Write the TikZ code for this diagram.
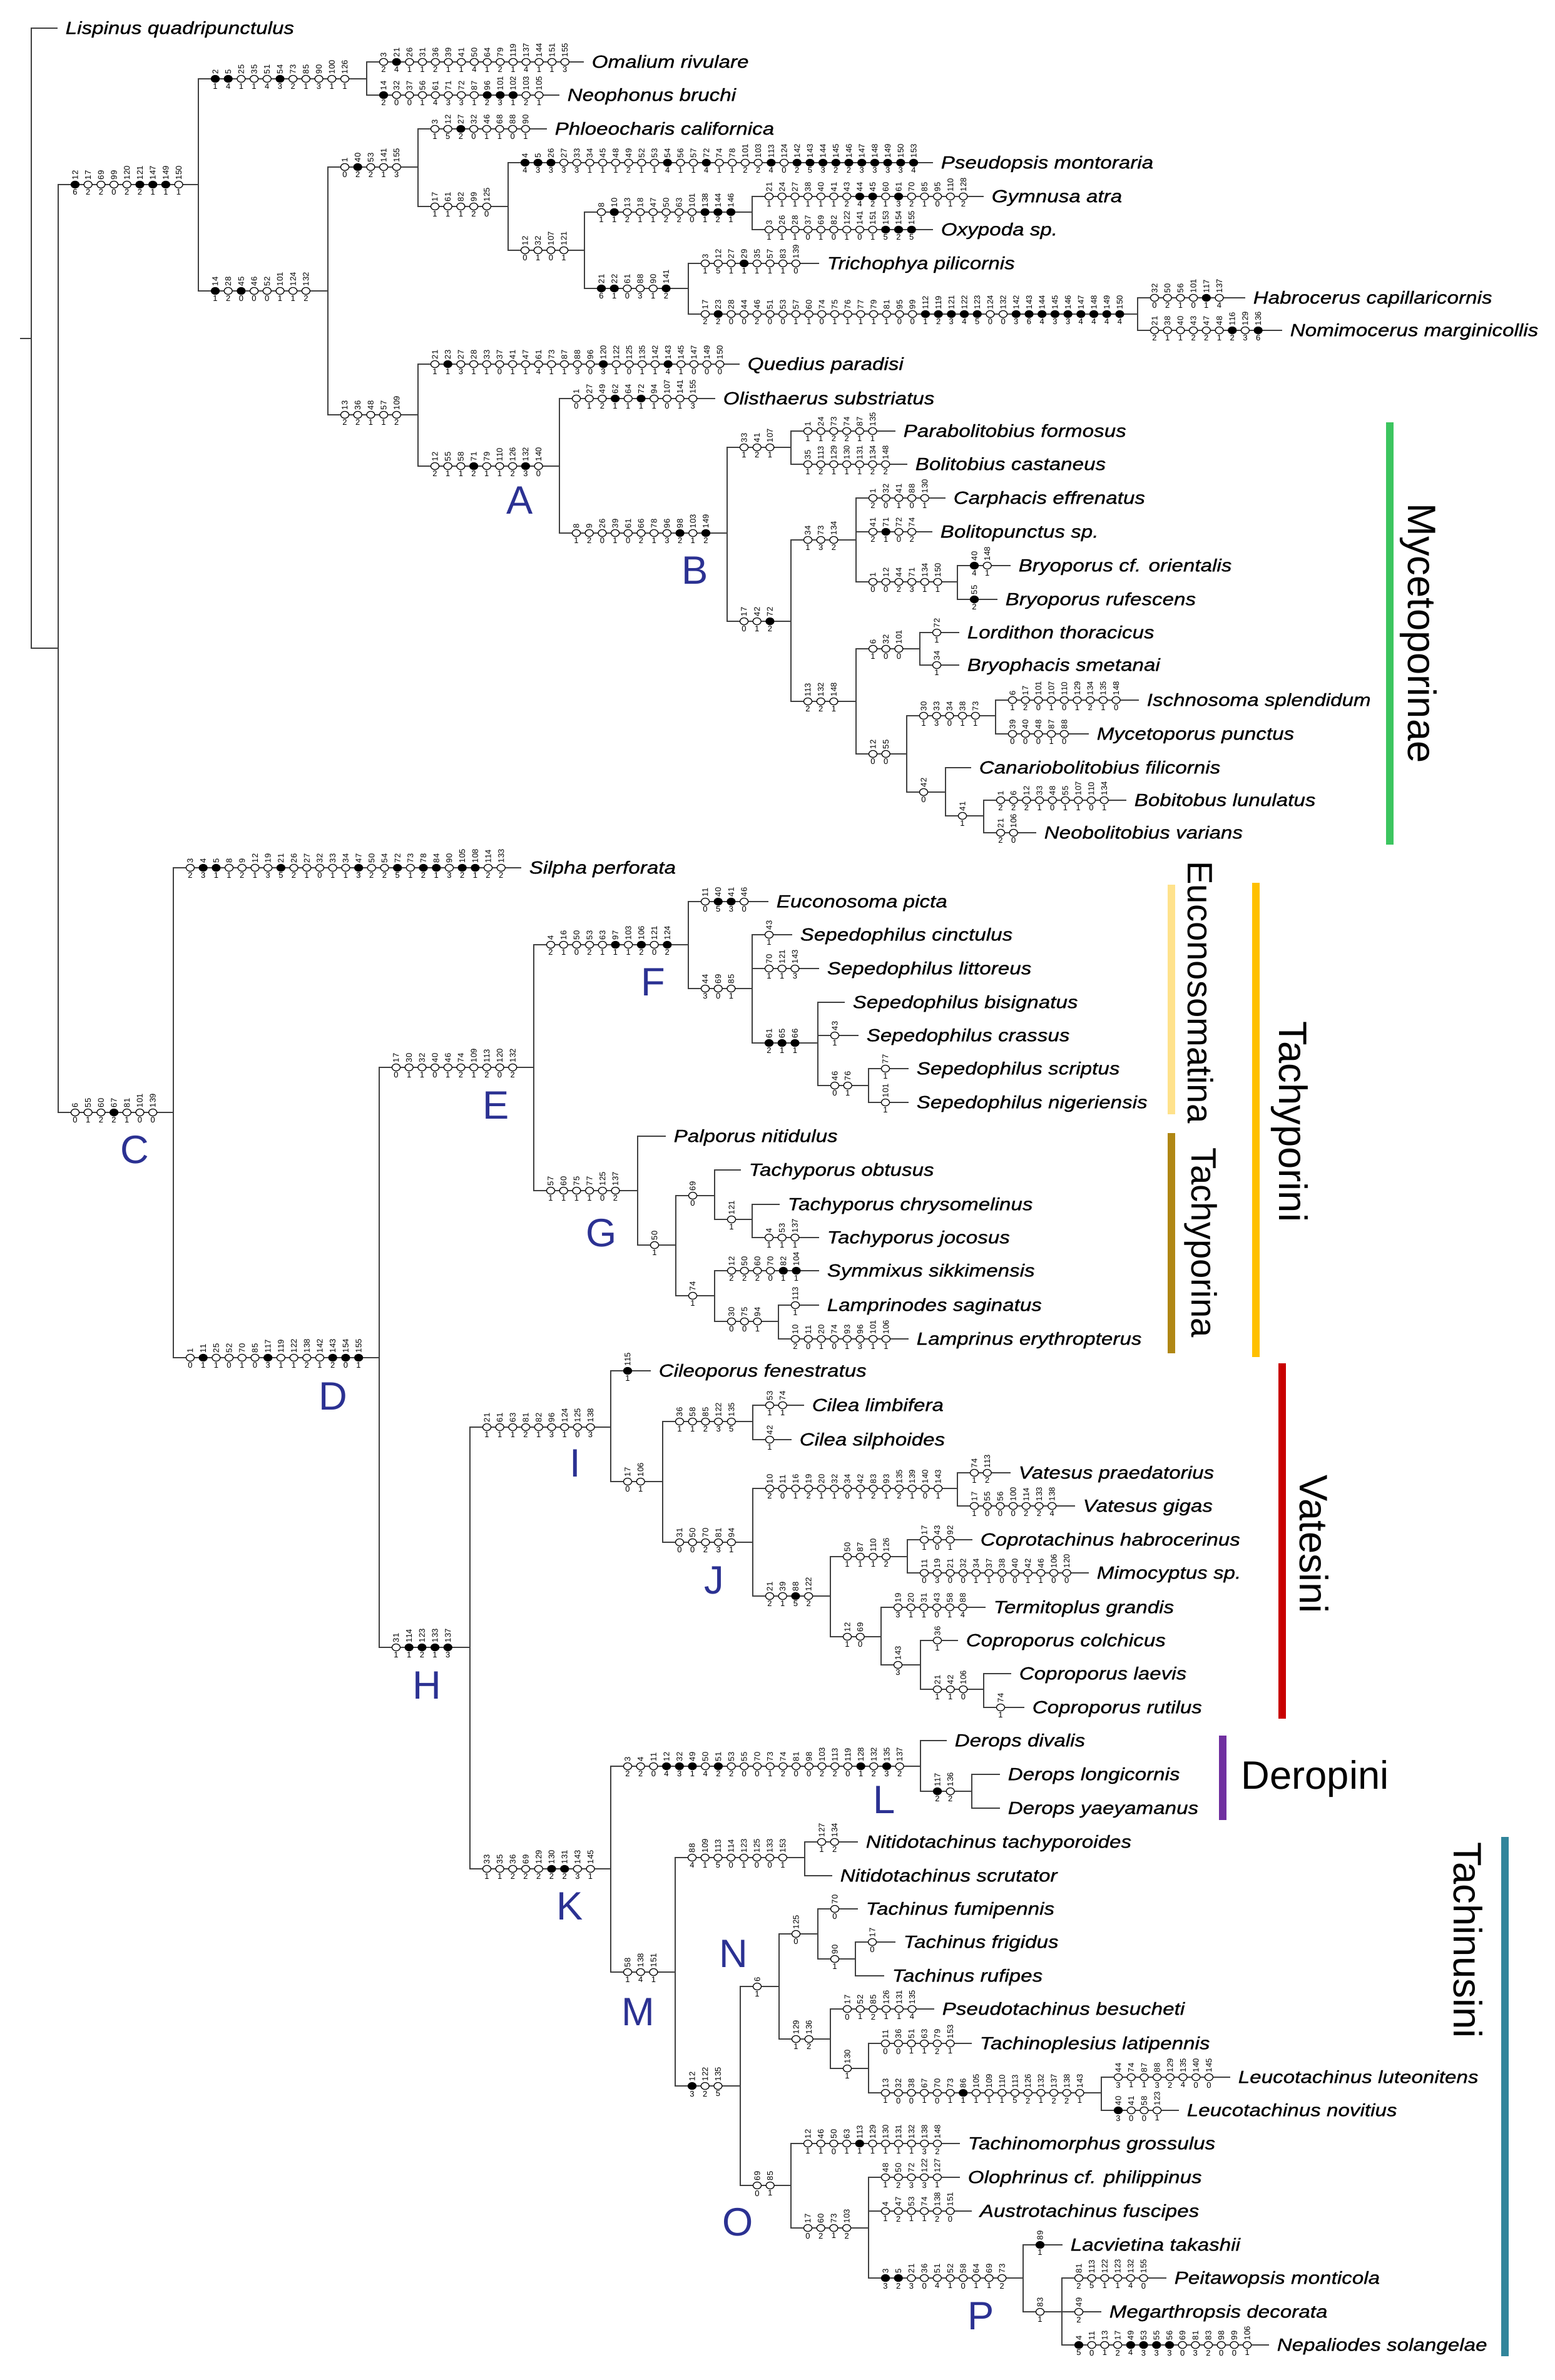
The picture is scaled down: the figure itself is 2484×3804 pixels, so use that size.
\documentclass[tikz,border=0pt]{standalone}
\usepackage{fontspec}
\setmainfont{Liberation Sans}
\newfontfamily\taxfont[FakeStretch=1.18,FakeBold=0.8]{Liberation Sans}
\usetikzlibrary{calc,positioning,shapes.geometric}

\definecolor{letterblue}{RGB}{43,49,146}
\definecolor{mycgreen}{RGB}{60,197,95}
\definecolor{eucoyellow}{RGB}{255,226,140}
\definecolor{tachybrown}{RGB}{176,135,20}
\definecolor{tachyorange}{RGB}{255,192,0}
\definecolor{vatred}{RGB}{200,0,0}
\definecolor{deropurple}{RGB}{112,48,160}
\definecolor{tachteal}{RGB}{49,133,155}
\colorlet{F}{black}
\colorlet{O}{white}

\tikzset{
  branch/.style={draw=black!75, line width=0.8pt},
  apo/.style={ellipse, draw=black, fill=#1, line width=0.35pt, inner sep=0pt,
    minimum width=0.13cm, minimum height=0.11cm},
  num/.style={font=\fontsize{3.7}{4}\selectfont, inner sep=0.3pt},
  taxon/.style={font=\taxfont\itshape\fontsize{8}{9}\selectfont, inner sep=0pt},
  group/.style={font=\fontsize{18}{20}\selectfont, inner sep=0pt},
  subgroup/.style={font=\fontsize{16}{18}\selectfont, inner sep=0pt},
  letter/.style={font=\fontsize{18}{20}\selectfont, text=letterblue, inner sep=0pt},
  bar/.style={line width=3.4pt}
}

% parent, child
\newcommand{\edgeto}[2]{\draw[branch] (#1) |- (#2);}
% parent, child, character/state/fill
\newcommand{\edgechars}[3]{%
  \draw[branch] (#1) |- (#2);
  \foreach \ch/\st/\fl [count=\k from 0] in {#3}{%
    \node[apo=\fl, label={[num,rotate=90,anchor=west]90:\ch},
      label={[num,anchor=north]270:\st}] (#2-\k) at ($(#1 |- #2)+({27+20.7*\k},0)$) {};
  }%
}
\newcommand{\taxlabel}[2]{\node[taxon, right=0.12cm of #1, anchor=mid west] (#1-l) {#2};}

\begin{document}
\begin{tikzpicture}[x=0.01cm, y=-0.01cm]
\useasboundingbox (0,0) rectangle (2484,3804);

% nodes of the upper part
\coordinate (base) at (32,541);
\coordinate (root) at (50,541);
\coordinate (lisp) at (92,45);
\coordinate (n1) at (93,1036);
\coordinate (n2) at (317,295);
\coordinate (n3) at (586,126);
\coordinate (omal) at (933,99);
\coordinate (neoph) at (894,152);
\coordinate (n4) at (524,465);
\coordinate (n5) at (668,267);
\coordinate (phlo) at (874,206);
\coordinate (n6) at (812,330);
\coordinate (pseud) at (1491,260);
\coordinate (n7) at (934,400);
\coordinate (n8) at (1202,339);
\coordinate (gymn) at (1572,314);
\coordinate (oxyp) at (1491,367);
\coordinate (n9) at (1100,461);
\coordinate (trich) at (1309,421);
\coordinate (n10) at (1818,502);
\coordinate (habro) at (1990,476);
\coordinate (nomim) at (2049,528);
\coordinate (n11) at (668,663);
\coordinate (qued) at (1182,582);
\coordinate (nA) at (894,745);
\coordinate (olis) at (1143,637);
\coordinate (nB) at (1162,852);
\coordinate (n14) at (1264,715);
\coordinate (parab) at (1431,689);
\coordinate (bolit) at (1450,742);
\coordinate (n15) at (1264,993);
\coordinate (n16) at (1368,863);
\coordinate (carph) at (1511,796);
\coordinate (bolp) at (1490,850);
\coordinate (n17) at (1530,930);
\coordinate (bryo1) at (1615,904);
\coordinate (bryo2) at (1594,958);
\coordinate (n18) at (1368,1121);
\coordinate (n19) at (1470,1037);
\coordinate (lord) at (1533,1011);
\coordinate (bryph) at (1533,1063);
\coordinate (n20) at (1449,1205);
\coordinate (n21) at (1591,1144);
\coordinate (ischn) at (1820,1119);
\coordinate (mycet) at (1740,1173);
\coordinate (n22) at (1511,1266);
\coordinate (canar) at (1552,1227);
\coordinate (n23) at (1572,1304);
\coordinate (bobit) at (1800,1279);
\coordinate (neobo) at (1656,1331);

% nodes of the lower part
\coordinate (nC) at (277,1778);
\coordinate (silpha) at (833,1387);
\coordinate (nD) at (606,2170);
\coordinate (nE) at (853,1706);
\coordinate (nF) at (1100,1510);
\coordinate (eucon) at (1228,1441);
\coordinate (n28) at (1202,1580);
\coordinate (sep1) at (1266,1494);
\coordinate (sep2) at (1309,1548);
\coordinate (n29) at (1307,1667);
\coordinate (sep3) at (1350,1602);
\coordinate (sep4) at (1372,1655);
\coordinate (n30) at (1388,1735);
\coordinate (sep5) at (1452,1708);
\coordinate (sep6) at (1452,1762);
\coordinate (nG) at (1019,1903);
\coordinate (palp) at (1064,1816);
\coordinate (n32) at (1080,1990);
\coordinate (n33) at (1142,1911);
\coordinate (tobt) at (1184,1870);
\coordinate (n34) at (1202,1949);
\coordinate (tchr) at (1246,1925);
\coordinate (tjoc) at (1309,1978);
\coordinate (n35) at (1142,2071);
\coordinate (symm) at (1309,2031);
\coordinate (n36) at (1244,2112);
\coordinate (lampd) at (1309,2086);
\coordinate (lampr) at (1452,2140);
\coordinate (nH) at (751,2633);
\coordinate (nI) at (976,2281);
\coordinate (cileo) at (1040,2191);
\coordinate (n39) at (1059,2368);
\coordinate (n40) at (1203,2272);
\coordinate (cil1) at (1285,2246);
\coordinate (cil2) at (1265,2301);
\coordinate (nJ) at (1203,2465);
\coordinate (n42) at (1530,2379);
\coordinate (vat1) at (1615,2354);
\coordinate (vat2) at (1718,2407);
\coordinate (n43) at (1327,2551);
\coordinate (n44) at (1450,2488);
\coordinate (copro) at (1554,2461);
\coordinate (mimo) at (1740,2514);
\coordinate (n45) at (1408,2616);
\coordinate (termi) at (1575,2569);
\coordinate (n46) at (1471,2661);
\coordinate (cop1) at (1531,2622);
\coordinate (n47) at (1572,2700);
\coordinate (cop2) at (1616,2675);
\coordinate (cop3) at (1637,2729);
\coordinate (nK) at (976,2987);
\coordinate (nL) at (1471,2823);
\coordinate (der1) at (1513,2782);
\coordinate (n50) at (1553,2863);
\coordinate (der2) at (1598,2836);
\coordinate (der3) at (1598,2890);
\coordinate (nM) at (1079,3152);
\coordinate (n52) at (1286,2969);
\coordinate (nit1) at (1371,2944);
\coordinate (nit2) at (1330,2998);
\coordinate (n53) at (1183,3334);
\coordinate (nN) at (1245,3175);
\coordinate (n55) at (1307,3091);
\coordinate (tfum) at (1371,3051);
\coordinate (n56) at (1367,3131);
\coordinate (tfri) at (1431,3104);
\coordinate (truf) at (1413,3158);
\coordinate (n57) at (1327,3259);
\coordinate (pstac) at (1493,3211);
\coordinate (n58) at (1388,3306);
\coordinate (tlat) at (1553,3266);
\coordinate (n59) at (1760,3345);
\coordinate (leu1) at (1966,3320);
\coordinate (leu2) at (1884,3373);
\coordinate (nO) at (1264,3493);
\coordinate (tgro) at (1534,3426);
\coordinate (n61) at (1388,3561);
\coordinate (olop) at (1534,3480);
\coordinate (austr) at (1553,3534);
\coordinate (nP) at (1635,3641);
\coordinate (lacv) at (1698,3588);
\coordinate (n63) at (1697,3695);
\coordinate (peit) at (1864,3641);
\coordinate (megar) at (1760,3695);
\coordinate (nepal) at (2028,3748);

% branches
\draw[branch] (base) -- (root);
\edgeto{root}{lisp}
\edgeto{root}{n1}
\edgechars{n1}{n2}{12/6/F,17/2/O,69/2/O,99/0/O,120/2/O,121/2/F,147/1/F,149/1/F,150/1/O}
\edgechars{n2}{n3}{2/1/F,5/4/F,25/1/O,35/1/O,51/4/O,54/3/F,73/2/O,85/1/O,90/3/O,100/1/O,126/1/O}
\edgechars{n3}{omal}{3/2/O,21/4/F,26/1/O,31/1/O,36/2/O,39/1/O,41/1/O,50/4/O,64/1/O,79/2/O,119/1/O,137/4/O,144/1/O,151/1/O,155/3/O}
\edgechars{n3}{neoph}{14/2/F,32/0/O,37/0/O,56/1/O,61/4/O,71/3/O,72/3/O,87/1/O,96/2/F,101/3/F,102/1/F,103/2/O,105/1/O}
\edgechars{n2}{n4}{14/1/F,28/2/O,45/0/F,46/0/O,52/0/O,101/1/O,124/1/O,132/2/O}
\edgechars{n4}{n5}{1/0/O,40/2/F,53/2/O,141/1/O,155/3/O}
\edgechars{n5}{phlo}{3/1/O,12/5/O,27/2/F,32/0/O,46/1/O,68/1/O,88/0/O,90/1/O}
\edgechars{n5}{n6}{17/1/O,61/1/O,82/1/O,99/2/O,125/0/O}
\edgechars{n6}{pseud}{4/4/F,5/3/F,26/3/F,27/3/O,33/3/O,34/1/O,45/1/O,48/1/O,49/2/O,52/1/O,53/1/O,54/4/F,56/1/O,57/1/O,72/4/F,74/1/O,78/1/O,101/2/O,103/2/O,113/4/F,124/0/O,142/2/F,143/5/F,144/3/F,145/2/F,146/2/F,147/3/F,148/3/F,149/3/F,150/3/F,153/4/F}
\edgechars{n6}{n7}{12/0/O,32/1/O,107/0/O,121/1/O}
\edgechars{n7}{n8}{8/1/O,10/1/F,13/2/O,18/1/O,47/1/O,50/2/O,63/2/O,101/0/O,138/1/F,144/2/F,146/1/F}
\edgechars{n8}{gymn}{21/1/O,24/1/O,27/1/O,38/1/O,40/1/O,41/1/O,43/2/O,44/4/F,45/2/F,60/1/O,61/3/F,70/2/O,85/1/O,95/0/O,110/1/O,128/2/O}
\edgechars{n8}{oxyp}{3/1/O,26/1/O,28/1/O,37/0/O,69/1/O,82/0/O,122/1/O,141/0/O,151/1/O,153/5/F,154/2/F,155/5/F}
\edgechars{n7}{n9}{21/6/F,22/1/F,61/0/O,88/3/O,90/1/O,141/2/F}
\edgechars{n9}{trich}{3/1/O,12/5/O,27/1/O,29/1/F,35/1/O,57/1/O,83/1/O,139/0/O}
\edgechars{n9}{n10}{17/2/O,23/2/F,28/0/O,44/0/O,46/2/O,51/0/O,53/0/O,57/1/O,60/1/O,74/0/O,75/1/O,76/1/O,77/1/O,79/1/O,81/1/O,95/0/O,99/0/O,112/1/F,119/2/F,121/3/F,122/4/F,123/5/F,124/0/O,132/0/O,142/3/F,143/6/F,144/4/F,145/3/F,146/3/F,147/4/F,148/4/F,149/4/F,150/4/F}
\edgechars{n10}{habro}{32/0/O,50/2/O,56/1/O,101/0/O,117/1/F,137/4/O}
\edgechars{n10}{nomim}{21/2/O,38/1/O,40/1/O,43/2/O,47/2/O,48/1/O,116/2/F,129/3/O,136/6/F}
\edgechars{n4}{n11}{13/2/O,36/2/O,48/1/O,57/1/O,109/2/O}
\edgechars{n11}{qued}{21/1/O,23/1/F,27/3/O,28/1/O,33/1/O,37/0/O,41/1/O,47/1/O,61/4/O,73/1/O,87/1/O,88/3/O,96/0/O,120/3/F,122/1/O,125/0/O,135/1/O,142/1/O,143/4/F,145/1/O,147/0/O,149/0/O,150/0/O}
\edgechars{n11}{nA}{12/2/O,55/1/O,58/1/O,71/2/F,79/1/O,110/1/O,126/2/O,132/3/F,140/0/O}
\edgechars{nA}{olis}{1/0/O,27/1/O,49/2/O,62/1/F,64/1/O,72/1/F,94/1/O,107/0/O,141/1/O,155/3/O}
\edgechars{nA}{nB}{8/1/O,9/2/O,26/0/O,39/1/O,61/0/O,66/2/O,78/1/O,96/3/O,98/2/F,103/1/O,149/2/F}
\edgechars{nB}{n14}{33/1/O,41/2/O,107/1/O}
\edgechars{n14}{parab}{1/1/O,24/1/O,73/2/O,74/2/O,87/1/O,135/1/O}
\edgechars{n14}{bolit}{35/1/O,113/2/O,129/1/O,130/1/O,131/1/O,134/2/O,148/2/O}
\edgechars{nB}{n15}{17/0/O,42/1/O,72/2/F}
\edgechars{n15}{n16}{34/1/O,73/3/O,134/2/O}
\edgechars{n16}{carph}{1/2/O,32/0/O,41/1/O,88/0/O,130/1/O}
\edgechars{n16}{bolp}{41/2/O,71/1/F,72/0/O,74/2/O}
\edgechars{n16}{n17}{1/0/O,12/0/O,44/2/O,71/3/O,134/1/O,150/1/O}
\edgechars{n17}{bryo1}{40/4/F,148/1/O}
\edgechars{n17}{bryo2}{55/2/F}
\edgechars{n15}{n18}{113/2/O,132/2/O,148/1/O}
\edgechars{n18}{n19}{6/1/O,32/0/O,101/0/O}
\edgechars{n19}{lord}{72/1/O}
\edgechars{n19}{bryph}{34/1/O}
\edgechars{n18}{n20}{12/0/O,55/0/O}
\edgechars{n20}{n21}{30/1/O,33/3/O,34/0/O,38/1/O,73/1/O}
\edgechars{n21}{ischn}{6/1/O,17/2/O,101/0/O,107/1/O,110/0/O,129/1/O,134/2/O,135/1/O,148/0/O}
\edgechars{n21}{mycet}{39/0/O,40/0/O,48/0/O,87/1/O,88/0/O}
\edgechars{n20}{n22}{42/0/O}
\edgeto{n22}{canar}
\edgechars{n22}{n23}{41/1/O}
\edgechars{n23}{bobit}{1/2/O,6/2/O,12/2/O,33/1/O,48/0/O,55/1/O,107/1/O,110/0/O,134/1/O}
\edgechars{n23}{neobo}{21/2/O,106/0/O}

\edgechars{n1}{nC}{6/0/O,55/1/O,60/2/O,67/2/F,81/1/O,101/0/O,139/0/O}
\edgechars{nC}{silpha}{3/2/O,4/3/F,5/1/F,8/1/O,9/2/O,12/1/O,19/3/O,21/5/F,26/2/O,27/1/O,32/0/O,33/1/O,34/1/O,47/3/F,50/2/O,54/2/O,72/5/F,73/1/O,78/2/F,84/1/F,90/3/O,105/2/F,108/1/F,114/2/O,133/2/O}
\edgechars{nC}{nD}{1/0/O,11/1/F,25/1/O,52/0/O,70/1/O,85/0/O,117/3/F,119/1/O,122/1/O,138/2/O,142/1/O,143/2/F,154/0/F,155/1/F}
\edgechars{nD}{nE}{17/0/O,30/1/O,32/1/O,40/0/O,46/1/O,74/2/O,109/1/O,113/2/O,120/0/O,132/2/O}
\edgechars{nE}{nF}{4/2/O,16/1/O,50/0/O,53/2/O,63/1/O,97/1/F,103/1/O,106/2/F,121/0/O,124/2/F}
\edgechars{nF}{eucon}{11/0/O,40/5/F,41/3/F,46/0/O}
\edgechars{nF}{n28}{44/3/O,69/0/O,85/1/O}
\edgechars{n28}{sep1}{43/1/O}
\edgechars{n28}{sep2}{70/1/O,121/1/O,143/3/O}
\edgechars{n28}{n29}{61/2/F,65/1/F,66/1/F}
\edgeto{n29}{sep3}
\edgechars{n29}{sep4}{43/1/O}
\edgechars{n29}{n30}{46/0/O,76/1/O}
\edgechars{n30}{sep5}{77/1/O}
\edgechars{n30}{sep6}{101/1/O}
\edgechars{nE}{nG}{57/1/O,60/1/O,75/1/O,77/1/O,125/0/O,137/2/O}
\edgeto{nG}{palp}
\edgechars{nG}{n32}{50/1/O}
\edgechars{n32}{n33}{69/0/O}
\edgeto{n33}{tobt}
\edgechars{n33}{n34}{121/1/O}
\edgeto{n34}{tchr}
\edgechars{n34}{tjoc}{4/1/O,53/1/O,137/1/O}
\edgechars{n32}{n35}{74/1/O}
\edgechars{n35}{symm}{12/2/O,50/2/O,60/2/O,70/0/O,82/1/F,104/1/F}
\edgechars{n35}{n36}{30/0/O,75/0/O,94/1/O}
\edgechars{n36}{lampd}{113/1/O}
\edgechars{n36}{lampr}{10/2/O,11/0/O,20/1/O,74/0/O,93/1/O,96/3/O,101/1/O,106/1/O}
\edgechars{nD}{nH}{31/1/O,114/1/F,123/2/F,133/1/F,137/3/F}
\edgechars{nH}{nI}{21/1/O,61/1/O,63/1/O,81/2/O,82/1/O,96/3/O,124/1/O,125/0/O,138/3/O}
\edgechars{nI}{cileo}{115/1/F}
\edgechars{nI}{n39}{17/0/O,106/1/O}
\edgechars{n39}{n40}{36/1/O,58/1/O,85/2/O,122/3/O,135/5/O}
\edgechars{n40}{cil1}{53/1/O,74/1/O}
\edgechars{n40}{cil2}{42/1/O}
\edgechars{n39}{nJ}{31/0/O,50/0/O,70/2/O,81/3/O,94/1/O}
\edgechars{nJ}{n42}{10/2/O,11/0/O,16/1/O,19/2/O,20/1/O,32/1/O,34/0/O,42/1/O,83/2/O,93/1/O,135/2/O,139/1/O,140/0/O,143/1/O}
\edgechars{n42}{vat1}{74/1/O,113/2/O}
\edgechars{n42}{vat2}{17/1/O,55/0/O,56/0/O,100/0/O,114/2/O,133/2/O,138/4/O}
\edgechars{nJ}{n43}{21/2/O,39/1/O,88/5/F,122/2/O}
\edgechars{n43}{n44}{50/1/O,87/1/O,110/1/O,126/2/O}
\edgechars{n44}{copro}{17/1/O,43/0/O,92/1/O}
\edgechars{n44}{mimo}{11/0/O,19/3/O,21/0/O,32/0/O,34/1/O,37/1/O,38/0/O,40/0/O,42/1/O,46/1/O,106/0/O,120/0/O}
\edgechars{n43}{n45}{12/1/O,69/0/O}
\edgechars{n45}{termi}{19/3/O,20/1/O,31/1/O,43/0/O,58/1/O,88/4/O}
\edgechars{n45}{n46}{143/3/O}
\edgechars{n46}{cop1}{36/1/O}
\edgechars{n46}{n47}{21/1/O,42/1/O,106/0/O}
\edgeto{n47}{cop2}
\edgechars{n47}{cop3}{74/1/O}
\edgechars{nH}{nK}{33/1/O,35/1/O,36/2/O,69/2/O,129/2/O,130/2/F,131/2/F,143/3/O,145/1/O}
\edgechars{nK}{nL}{3/2/O,4/2/O,11/0/O,12/4/F,32/3/F,49/1/F,50/4/O,51/2/F,53/2/O,55/0/O,70/0/O,73/1/O,74/2/O,81/0/O,98/0/O,103/2/O,113/2/O,119/0/O,128/1/F,132/2/O,135/3/F,137/2/O}
\edgeto{nL}{der1}
\edgechars{nL}{n50}{117/2/F,136/2/O}
\edgeto{n50}{der2}
\edgeto{n50}{der3}
\edgechars{nK}{nM}{58/1/O,138/4/O,151/1/O}
\edgechars{nM}{n52}{88/4/O,109/1/O,113/5/O,114/0/O,123/1/O,125/0/O,133/0/O,153/1/O}
\edgechars{n52}{nit1}{127/1/O,134/2/O}
\edgeto{n52}{nit2}
\edgechars{nM}{n53}{12/3/F,122/2/O,135/5/O}
\edgechars{n53}{nN}{6/1/O}
\edgechars{nN}{n55}{125/0/O}
\edgechars{n55}{tfum}{70/0/O}
\edgechars{n55}{n56}{90/1/O}
\edgechars{n56}{tfri}{17/0/O}
\edgeto{n56}{truf}
\edgechars{nN}{n57}{129/1/O,136/2/O}
\edgechars{n57}{pstac}{17/0/O,52/1/O,85/2/O,126/1/O,131/1/O,135/4/O}
\edgechars{n57}{n58}{130/1/O}
\edgechars{n58}{tlat}{11/0/O,36/0/O,51/1/O,63/1/O,79/2/O,153/1/O}
\edgechars{n58}{n59}{13/1/O,32/0/O,38/0/O,67/1/O,70/0/O,73/1/O,86/1/F,105/1/O,109/1/O,110/1/O,113/5/O,126/2/O,132/1/O,137/2/O,138/2/O,143/1/O}
\edgechars{n59}{leu1}{44/3/O,74/1/O,87/1/O,88/3/O,129/2/O,135/4/O,140/0/O,145/0/O}
\edgechars{n59}{leu2}{40/3/F,41/0/O,58/0/O,123/1/O}
\edgechars{n53}{nO}{69/0/O,85/1/O}
\edgechars{nO}{tgro}{12/1/O,46/1/O,50/0/O,63/1/O,113/1/F,129/1/O,130/1/O,131/1/O,132/1/O,138/3/O,148/2/O}
\edgechars{nO}{n61}{17/0/O,60/2/O,73/1/O,103/2/O}
\edgechars{n61}{olop}{48/1/O,50/2/O,72/3/O,122/3/O,127/1/O}
\edgechars{n61}{austr}{4/1/O,47/2/O,53/1/O,74/1/O,138/2/O,151/0/O}
\edgechars{n61}{nP}{3/3/F,5/2/F,21/3/O,36/0/O,51/4/O,52/1/O,58/0/O,64/1/O,69/1/O,73/2/O}
\edgechars{nP}{lacv}{89/1/F}
\edgechars{nP}{n63}{83/1/O}
\edgechars{n63}{peit}{81/2/O,113/5/O,122/1/O,123/1/O,132/4/O,155/0/O}
\edgechars{n63}{megar}{49/2/O}
\edgechars{n63}{nepal}{4/5/F,11/0/O,13/1/O,17/2/O,49/4/F,53/3/F,55/3/F,56/3/F,69/0/O,81/3/O,83/2/O,98/0/O,99/0/O,106/1/O}

% taxa
\taxlabel{lisp}{Lispinus quadripunctulus}
\taxlabel{omal}{Omalium rivulare}
\taxlabel{neoph}{Neophonus bruchi}
\taxlabel{phlo}{Phloeocharis californica}
\taxlabel{pseud}{Pseudopsis montoraria}
\taxlabel{gymn}{Gymnusa atra}
\taxlabel{oxyp}{Oxypoda sp.}
\taxlabel{trich}{Trichophya pilicornis}
\taxlabel{habro}{Habrocerus capillaricornis}
\taxlabel{nomim}{Nomimocerus marginicollis}
\taxlabel{qued}{Quedius paradisi}
\taxlabel{olis}{Olisthaerus substriatus}
\taxlabel{parab}{Parabolitobius formosus}
\taxlabel{bolit}{Bolitobius castaneus}
\taxlabel{carph}{Carphacis effrenatus}
\taxlabel{bolp}{Bolitopunctus sp.}
\taxlabel{bryo1}{Bryoporus cf. orientalis}
\taxlabel{bryo2}{Bryoporus rufescens}
\taxlabel{lord}{Lordithon thoracicus}
\taxlabel{bryph}{Bryophacis smetanai}
\taxlabel{ischn}{Ischnosoma splendidum}
\taxlabel{mycet}{Mycetoporus punctus}
\taxlabel{canar}{Canariobolitobius filicornis}
\taxlabel{bobit}{Bobitobus lunulatus}
\taxlabel{neobo}{Neobolitobius varians}
\taxlabel{silpha}{Silpha perforata}
\taxlabel{eucon}{Euconosoma picta}
\taxlabel{sep1}{Sepedophilus cinctulus}
\taxlabel{sep2}{Sepedophilus littoreus}
\taxlabel{sep3}{Sepedophilus bisignatus}
\taxlabel{sep4}{Sepedophilus crassus}
\taxlabel{sep5}{Sepedophilus scriptus}
\taxlabel{sep6}{Sepedophilus nigeriensis}
\taxlabel{palp}{Palporus nitidulus}
\taxlabel{tobt}{Tachyporus obtusus}
\taxlabel{tchr}{Tachyporus chrysomelinus}
\taxlabel{tjoc}{Tachyporus jocosus}
\taxlabel{symm}{Symmixus sikkimensis}
\taxlabel{lampd}{Lamprinodes saginatus}
\taxlabel{lampr}{Lamprinus erythropterus}
\taxlabel{cileo}{Cileoporus fenestratus}
\taxlabel{cil1}{Cilea limbifera}
\taxlabel{cil2}{Cilea silphoides}
\taxlabel{vat1}{Vatesus praedatorius}
\taxlabel{vat2}{Vatesus gigas}
\taxlabel{copro}{Coprotachinus habrocerinus}
\taxlabel{mimo}{Mimocyptus sp.}
\taxlabel{termi}{Termitoplus grandis}
\taxlabel{cop1}{Coproporus colchicus}
\taxlabel{cop2}{Coproporus laevis}
\taxlabel{cop3}{Coproporus rutilus}
\taxlabel{der1}{Derops divalis}
\taxlabel{der2}{Derops longicornis}
\taxlabel{der3}{Derops yaeyamanus}
\taxlabel{nit1}{Nitidotachinus tachyporoides}
\taxlabel{nit2}{Nitidotachinus scrutator}
\taxlabel{tfum}{Tachinus fumipennis}
\taxlabel{tfri}{Tachinus frigidus}
\taxlabel{truf}{Tachinus rufipes}
\taxlabel{pstac}{Pseudotachinus besucheti}
\taxlabel{tlat}{Tachinoplesius latipennis}
\taxlabel{leu1}{Leucotachinus luteonitens}
\taxlabel{leu2}{Leucotachinus novitius}
\taxlabel{tgro}{Tachinomorphus grossulus}
\taxlabel{olop}{Olophrinus cf. philippinus}
\taxlabel{austr}{Austrotachinus fuscipes}
\taxlabel{lacv}{Lacvietina takashii}
\taxlabel{peit}{Peitawopsis monticola}
\taxlabel{megar}{Megarthropsis decorata}
\taxlabel{nepal}{Nepaliodes solangelae}

% clade letters
\node[letter] (lA) at (831,800) {A};
\node[letter] (lB) at (1111,912) {B};
\node[letter] (lC) at (215,1838) {C};
\node[letter] (lD) at (532,2232) {D};
\node[letter] (lE) at (793,1767) {E};
\node[letter] (lF) at (1044,1570) {F};
\node[letter] (lG) at (961,1971) {G};
\node[letter] (lH) at (682,2694) {H};
\node[letter] (lI) at (919,2339) {I};
\node[letter] (lJ) at (1141,2526) {J};
\node[letter] (lK) at (911,3047) {K};
\node[letter] (lL) at (1413,2877) {L};
\node[letter] (lM) at (1020,3216) {M};
\node[letter] (lN) at (1172,3123) {N};
\node[letter] (lO) at (1179,3552) {O};
\node[letter] (lP) at (1568,3702) {P};

% group bars
\draw[bar, draw=mycgreen] (2221,675) -- (2221,1350);
\node[group, rotate=-90] (myc) at (2267,1012) {Mycetoporinae};
\draw[bar, draw=eucoyellow] (1872,1414) -- (1872,1781);
\node[subgroup, rotate=-90] (euc) at (1919,1586) {Euconosomatina};
\draw[bar, draw=tachybrown] (1872,1811) -- (1872,2163);
\node[subgroup, rotate=-90] (tcp) at (1919,1986) {Tachyporina};
\draw[bar, draw=tachyorange] (2007,1411) -- (2007,2169);
\node[group, rotate=-90] (tci) at (2061,1793) {Tachyporini};
\draw[bar, draw=vatred] (2049,2179) -- (2049,2747);
\node[group, rotate=-90] (vat) at (2100,2468) {Vatesini};
\draw[bar, draw=deropurple] (1954,2774) -- (1954,2909);
\node[group, anchor=west] (der) at (1983,2843) {Deropini};
\draw[bar, draw=tachteal] (2405,2936) -- (2405,3766);
\node[group, rotate=-90] (tac) at (2346,3101) {Tachinusini};

\end{tikzpicture}
\end{document}
